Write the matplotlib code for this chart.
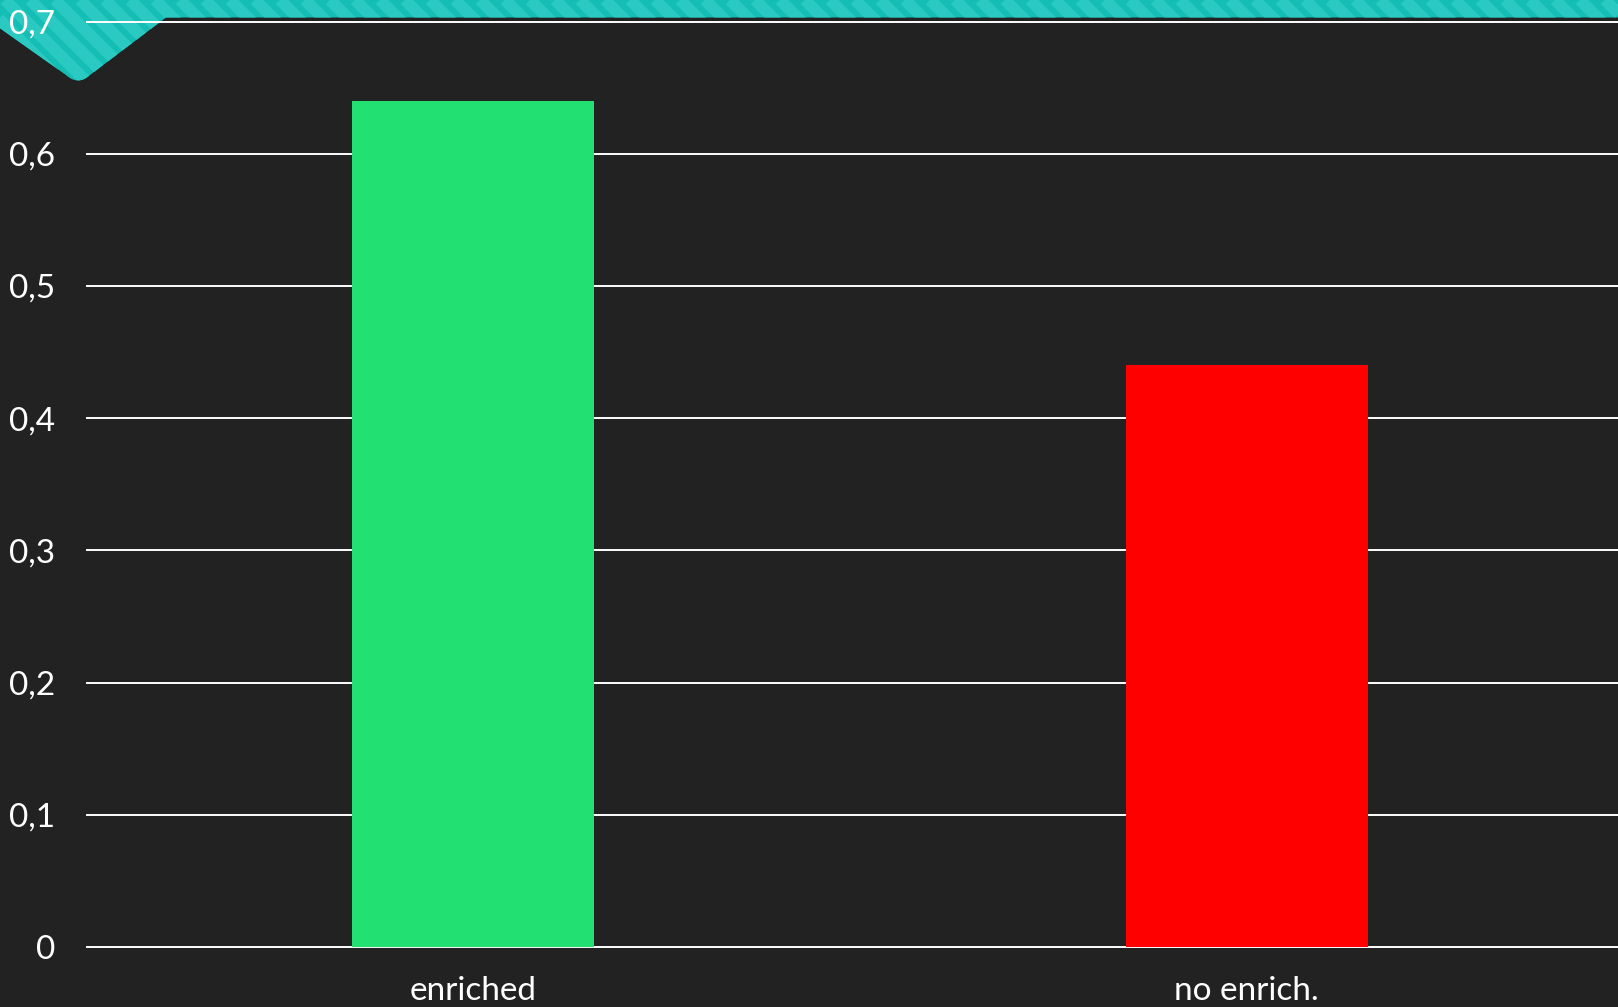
import matplotlib
matplotlib.use("Agg")
import matplotlib.pyplot as plt
from matplotlib.path import Path
from matplotlib.patches import PathPatch
from matplotlib.ticker import FuncFormatter

categories = ["enriched", "no enrich."]
values = [0.64, 0.44]
bar_colors = ["#23E072", "#FF0000"]

W, H = 1618, 1007
BG = "#222222"
TEAL = "#15BEB4"
TEAL_STRIPE = "#2ACAC2"

plt.rcParams["font.family"] = ["Lato", "DejaVu Sans"]

fig = plt.figure(figsize=(W / 100, H / 100), dpi=100)
fig.patch.set_facecolor(BG)


def px(x, y):
    # pixel coords (origin top-left) -> figure fraction
    return (x / W, 1 - y / H)


# teal header band with a chevron on the left
verts = [px(-40, 0), px(W + 10, 0), px(W + 10, 17.5), px(166, 17.5),
         px(90, 75), px(78, 86), px(66, 75), px(-40, 0)]
codes = [Path.MOVETO, Path.LINETO, Path.LINETO, Path.LINETO,
         Path.LINETO, Path.CURVE3, Path.CURVE3, Path.CLOSEPOLY]
header_path = Path(verts, codes)
header = PathPatch(header_path, facecolor=TEAL, edgecolor="none",
                   transform=fig.transFigure, zorder=-2)
fig.patches.append(header)

# diagonal stripes on the header
for x0 in range(-120, W + 40, 25):
    line = plt.Line2D([x0 / W, (x0 + 90) / W], [1, 1 - 90 / H],
                      transform=fig.transFigure, color=TEAL_STRIPE,
                      linewidth=8.5, zorder=-1, solid_capstyle="butt")
    line.set_clip_path(header_path, fig.transFigure)
    fig.lines.append(line)

left, right = 87 / W, 1.0
bottom, top = 1 - 947 / H, 1 - 21.5 / H
ax = fig.add_axes([left, bottom, right - left, top - bottom])
ax.set_facecolor("none")

x = list(range(len(categories)))
ax.bar(x, values, width=0.313, color=bar_colors, zorder=3)

ax.set_xlim(-0.499, 1.480)
ax.set_ylim(0, 0.7)
ax.set_yticks([i / 10 for i in range(8)])
ax.yaxis.set_major_formatter(
    FuncFormatter(lambda v, p: "0" if abs(v) < 1e-9 else f"{v:.1f}".replace(".", ",")))
ax.set_xticks(x)
ax.set_xticklabels(categories)

ax.grid(axis="y", color="white", linewidth=1.4, zorder=1)
ax.set_axisbelow(True)
for gl in ax.get_ygridlines():
    gl.set_clip_on(False)
for s in ax.spines.values():
    s.set_visible(False)

ax.tick_params(axis="both", length=0, colors="white", labelsize=24)
ax.tick_params(axis="y", pad=23)
ax.tick_params(axis="x", pad=21)

fig.savefig("out.png", dpi=100, facecolor=BG)
